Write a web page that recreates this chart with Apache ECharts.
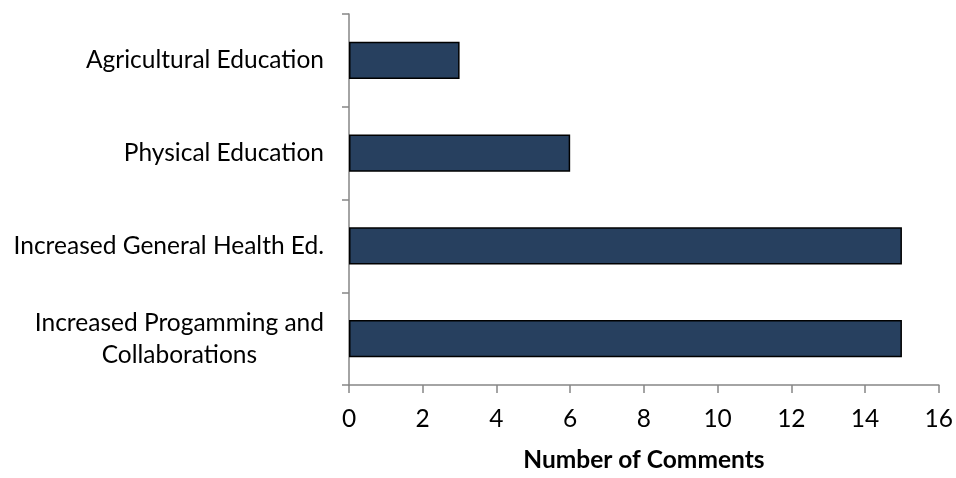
<!DOCTYPE html>
<html><head><meta charset="utf-8">
<script src="https://cdn.jsdelivr.net/npm/echarts@6/dist/echarts.min.js"></script>
<style>html,body{margin:0;padding:0;background:#fff}#c{width:956px;height:478px}</style>
</head><body><div id="c"></div>
<script>
var categories = ['Increased Progamming and\nCollaborations', 'Increased General Health Ed.', 'Physical Education', 'Agricultural Education'];
var values = [15, 15, 6, 3];
var xTicks = [0, 2, 4, 6, 8, 10, 12, 14, 16];
var xTitle = 'Number of Comments';

var chart = echarts.init(document.getElementById('c'));
var FONT = 'Lato';
var FS = 24.5;
chart.setOption({
  animation: false,
  grid: {left: 349, right: 17, top: 14, bottom: 87, containLabel: false},
  xAxis: {
    type: 'value', min: xTicks[0], max: xTicks[xTicks.length - 1], interval: 2,
    name: xTitle, nameLocation: 'middle', nameGap: 63,
    nameTextStyle: {fontFamily: FONT, fontSize: FS, fontWeight: 'bold', color: '#000'},
    axisLine: {show: true, lineStyle: {color: '#868686', width: 1.5}},
    axisTick: {show: true, length: 8, lineStyle: {color: '#868686', width: 1.5}},
    axisLabel: {fontFamily: FONT, fontSize: FS, color: '#000', margin: 22},
    splitLine: {show: false}
  },
  yAxis: {
    type: 'category', data: categories,
    axisLine: {show: true, lineStyle: {color: '#868686', width: 1.5}},
    axisTick: {show: true, length: 7, lineStyle: {color: '#868686', width: 1.5}},
    axisLabel: {
      fontFamily: FONT, fontSize: FS, color: '#000', margin: 25,
      formatter: function (v) {
        return v.split('\n').map(function (s) { return '{c|' + s + '}'; }).join('\n');
      },
      rich: {c: {fontFamily: FONT, fontSize: FS, color: '#000', align: 'center', lineHeight: 32}}
    },
    splitLine: {show: false}
  },
  series: [{
    type: 'bar', data: values, barWidth: '40%',
    itemStyle: {color: '#27405F', borderColor: '#000', borderWidth: 1.5}
  }]
});
</script></body></html>
